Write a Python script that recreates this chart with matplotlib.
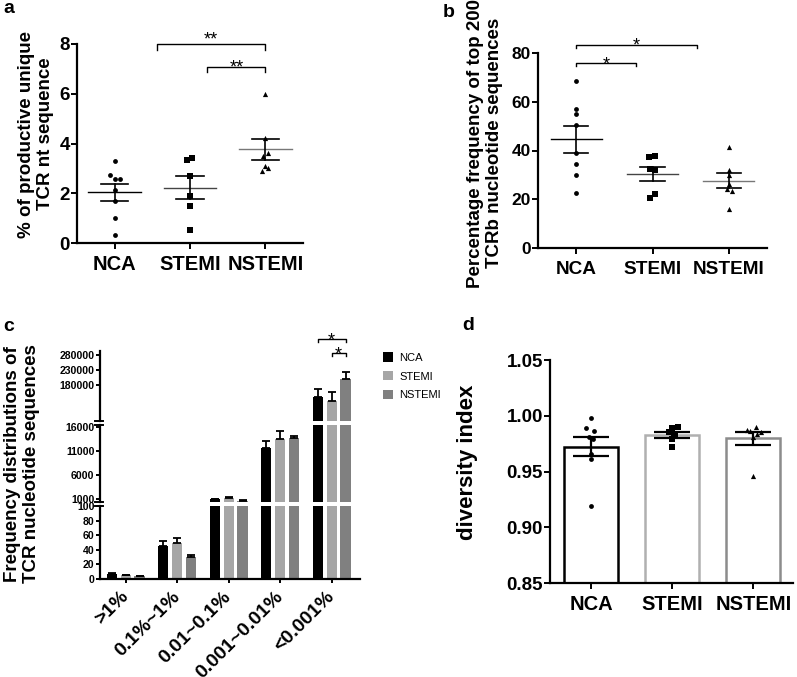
import matplotlib
matplotlib.use('Agg')
import matplotlib.pyplot as plt
from matplotlib.patches import Patch
import numpy as np

plt.rcParams['font.family'] = ['Liberation Sans', 'DejaVu Sans']
plt.rcParams['font.weight'] = 'bold'
plt.rcParams['axes.linewidth'] = 1.6

# ---------------- data ----------------
groups = ['NCA', 'STEMI', 'NSTEMI']

# panel a: % of productive unique TCR nt sequence
a_nca = [3.30, 2.72, 2.58, 2.58, 2.12, 1.70, 1.00, 0.32]
a_stemi = [3.34, 3.40, 2.68, 1.90, 1.50, 0.54]
a_nstemi = [5.98, 4.24, 3.62, 3.50, 3.08, 3.02, 2.88]
a_yticks = [0, 2, 4, 6, 8]

# panel b: percentage frequency of top 200 TCRb nucleotide sequences
b_nca = [68.5, 57.2, 55.1, 50.5, 38.8, 34.5, 30.0, 22.6]
b_stemi = [37.9, 37.2, 32.4, 31.9, 22.3, 20.4]
b_nstemi = [41.3, 32.1, 30.0, 26.3, 24.2, 23.2, 16.1]
b_yticks = [0, 20, 40, 60, 80]

# panel c: frequency distributions (mean, upper SEM)
c_categories = ['>1%', '0.1%~1%', '0.01~0.1%', '0.001~0.01%', '<0.001%']
c_nca = [7, 46, 850, 11560, 140000]
c_nca_err = [1.0, 6, 150, 1450, 27000]
c_stemi = [5, 50, 1100, 13400, 127000]
c_stemi_err = [0.7, 6, 200, 1700, 30000]
c_nstemi = [3.5, 30, 600, 13600, 200000]
c_nstemi_err = [0.6, 3, 60, 500, 23000]
c_ticks_top = [180000, 230000, 280000]
c_ticks_mid = [1000, 6000, 11000, 16000]
c_ticks_bot = [0, 20, 40, 60, 80, 100]

# panel d: diversity index
d_nca = [0.998, 0.989, 0.986, 0.981, 0.979, 0.966, 0.961, 0.919]
d_stemi = [0.990, 0.989, 0.985, 0.983, 0.979, 0.972]
d_nstemi = [0.990, 0.987, 0.986, 0.985, 0.984, 0.981, 0.946]
d_yticks = [0.85, 0.90, 0.95, 1.00, 1.05]

# ---------------- layout helpers ----------------
W, H = 797, 677
fig = plt.figure(figsize=(W / 100, H / 100), dpi=100)


def add_ax(l, t, r, b):
    return fig.add_axes([l / W, 1 - b / H, (r - l) / W, (b - t) / H])


def style(ax):
    for s in ['top', 'right']:
        ax.spines[s].set_visible(False)
    ax.tick_params(direction='out', length=4, width=1.4, pad=1)


def sem(v):
    v = np.asarray(v, float)
    return v.std(ddof=1) / np.sqrt(len(v))


def bracket(ax, x0, x1, y, h, ystar, fs=13, txt='*'):
    ax.plot([x0, x0, x1, x1], [y - h, y, y, y - h], color='black', lw=1.0,
            clip_on=False)
    ax.annotate(txt, xy=((x0 + x1) / 2, ystar), xytext=(0, -7.5),
                textcoords='offset points', ha='center', va='baseline',
                fontsize=fs, fontweight='normal', annotation_clip=False)


markers = ['o', 's', '^']
msizes = [12, 14, 14]
line_cols = ['black', '#444444', '#777777']


def scatter_panel(ax, datasets, jitters, mean_hw, sem_hw):
    for i, (vals, jit) in enumerate(zip(datasets, jitters)):
        x = i + np.asarray(jit)
        ax.scatter(x, vals, marker=markers[i], s=msizes[i], color='black',
                   zorder=3, linewidths=0)
        m = np.mean(vals)
        e = sem(vals)
        ax.plot([i - mean_hw, i + mean_hw], [m, m], color=line_cols[i], lw=1.0, zorder=2)
        ax.plot([i, i], [m - e, m + e], color='black', lw=1.2, zorder=2)
        for yy in (m - e, m + e):
            ax.plot([i - sem_hw, i + sem_hw], [yy, yy], color='black', lw=1.2, zorder=2)


# ---------------- panel a ----------------
axa = add_ax(77, 44, 303, 243)
style(axa)
jit_a = [[0, -0.066, 0, 0.066, 0, 0, 0, 0],
         [-0.035, 0.03, 0, 0, 0, 0],
         [0, 0, 0.035, -0.03, 0.0, 0.035, -0.045]]
scatter_panel(axa, [a_nca, a_stemi, a_nstemi], jit_a, 0.35, 0.18)
axa.set_xlim(-0.5, 2.5)
axa.set_ylim(0, 8)
axa.set_yticks(a_yticks)
axa.set_xticks(range(3))
axa.set_xticklabels(groups, fontsize=14.5)
axa.tick_params(axis='y', labelsize=13.5)
axa.tick_params(axis='x', pad=5)
bracket(axa, 0.56, 2.0, 8.0, 0.23, 8.38, txt='**')
bracket(axa, 1.23, 2.0, 7.06, 0.2, 7.27, txt='**')
fig.text(36 / W, 1 - 134 / H, '% of productive unique\nTCR nt sequence',
         rotation=90, ha='center', va='center', fontsize=13.5,
         multialignment='center', linespacing=1.15)

# ---------------- panel b ----------------
axb = add_ax(538, 53, 767, 248)
style(axb)
jit_b = [[0, 0, 0, 0, 0, 0, 0, 0],
         [0.035, -0.04, -0.03, 0.035, 0.035, -0.03],
         [0, 0, 0, 0, -0.03, 0.035, 0]]
scatter_panel(axb, [b_nca, b_stemi, b_nstemi], jit_b, 0.335, 0.16)
axb.set_xlim(-0.5, 2.5)
axb.set_ylim(0, 80)
axb.set_yticks(b_yticks)
axb.set_xticks(range(3))
axb.set_xticklabels(groups, fontsize=13.7)
axb.tick_params(axis='y', labelsize=12.5)
axb.tick_params(axis='x', pad=5)
bracket(axb, 0.0, 1.58, 83.4, 1.4, 85.5)
bracket(axb, 0.0, 0.78, 75.9, 1.1, 77.5)
fig.text(485 / W, 1 - 143 / H, 'Percentage frequency of top 200\nTCRb nucleotide sequences',
         rotation=90, ha='center', va='center', fontsize=13.5,
         multialignment='center', linespacing=1.1)

# ---------------- panel c ----------------
c_cols = ['#000000', '#a6a6a6', '#808080']
axc_top = add_ax(100, 351, 360, 421)
axc_mid = add_ax(100, 425, 360, 502)
axc_bot = add_ax(100, 506, 360, 579)
xc = np.arange(len(c_categories))
offs = [-0.27, 0.0, 0.27]
series = [(c_nca, c_nca_err), (c_stemi, c_stemi_err), (c_nstemi, c_nstemi_err)]
for ax, lim, ticks in [(axc_top, (60000, 293000), c_ticks_top),
                       (axc_mid, (300, 16350), c_ticks_mid),
                       (axc_bot, (0, 100.5), c_ticks_bot)]:
    style(ax)
    for k, (vals, errs) in enumerate(series):
        vals = np.asarray(vals, float)
        errs = np.asarray(errs, float)
        ax.bar(xc + offs[k], vals, width=0.2, color=c_cols[k], zorder=2)
        mask = (vals > lim[0]) & (vals < lim[1])
        if mask.any():
            ax.errorbar((xc + offs[k])[mask], vals[mask],
                        yerr=[np.zeros(mask.sum()), errs[mask]], fmt='none',
                        ecolor='black', elinewidth=1.3, capsize=3, capthick=1.3,
                        zorder=3)
    ax.set_xlim(-0.5, 4.55)
    ax.set_ylim(*lim)
    ax.set_yticks(ticks)
    ax.set_yticklabels([str(t) for t in ticks])
    ax.tick_params(axis='y', labelsize=7.6, length=3, pad=1)
for ax in (axc_top, axc_mid):
    ax.spines['bottom'].set_visible(False)
    ax.set_xticks([])
# break marks
for ax, ys in [(axc_top, [0]), (axc_mid, [0, 1]), (axc_bot, [1])]:
    for yy in ys:
        ax.plot([-0.02, 0.012], [yy, yy], transform=ax.transAxes, color='black',
                lw=1.4, clip_on=False)
axc_bot.set_xticks(xc)
axc_bot.set_xticklabels(c_categories, rotation=45, ha='right', va='center',
                        rotation_mode='anchor', fontsize=14)
axc_bot.tick_params(axis='x', length=3, pad=8)
bracket(axc_top, 4 + offs[0], 4 + offs[2], 333000, 10000, 346000)
bracket(axc_top, 4 + offs[1], 4 + offs[2], 287300, 11000, 299700)
fig.text(22 / W, 1 - 464 / H, 'Frequency distributions of\nTCR nucleotide sequences',
         rotation=90, ha='center', va='center', fontsize=13.5,
         multialignment='center', linespacing=1.15)
fig.legend(handles=[Patch(facecolor=c, edgecolor='none') for c in c_cols], labels=groups,
           loc='upper left', bbox_to_anchor=(379 / W, 1 - 348 / H), frameon=False,
           prop={'size': 8, 'weight': 'normal'}, handlelength=0.9, handleheight=0.9,
           labelspacing=0.75, handletextpad=0.5, borderaxespad=0)

# ---------------- panel d ----------------
axd = add_ax(550, 360, 793, 583)
style(axd)
edge_d = ['black', '#b0b0b0', '#8c8c8c']
jit_d = [[0, -0.07, 0.03, -0.03, 0.02, 0, 0, 0],
         [0.075, 0, -0.035, 0.035, 0, 0],
         [0.035, -0.08, -0.04, 0.09, 0.04, 0, 0]]
dsets = [d_nca, d_stemi, d_nstemi]
for i, vals in enumerate(dsets):
    m = np.mean(vals)
    e = sem(vals)
    axd.bar(i, m, width=0.67, bottom=0, facecolor='white', edgecolor=edge_d[i],
            linewidth=1.8, zorder=1)
    axd.errorbar(i, m, yerr=e, fmt='none', ecolor='black', elinewidth=1.6,
                 capsize=13, capthick=1.6, zorder=3)
    axd.scatter(i + np.asarray(jit_d[i]), vals, marker=markers[i], s=msizes[i],
                color='black', linewidths=0, zorder=4)
axd.set_xlim(-0.51, 2.49)
axd.set_ylim(0.85, 1.05)
axd.set_yticks(d_yticks)
axd.set_yticklabels(['%.2f' % t for t in d_yticks])
axd.set_xticks(range(3))
axd.set_xticklabels(groups, fontsize=14.5)
axd.tick_params(axis='y', labelsize=13.5)
axd.tick_params(axis='x', pad=5)
fig.text(467 / W, 1 - 462 / H, 'diversity index', rotation=90, ha='center',
         va='center', fontsize=16)

# ---------------- panel letters ----------------
for lab, x, y in [('a', 3, 13), ('b', 443, 17), ('c', 3, 331), ('d', 462, 330)]:
    fig.text(x / W, 1 - y / H, lab, fontsize=14, va='baseline', ha='left')

fig.savefig('out.png', dpi=100)
